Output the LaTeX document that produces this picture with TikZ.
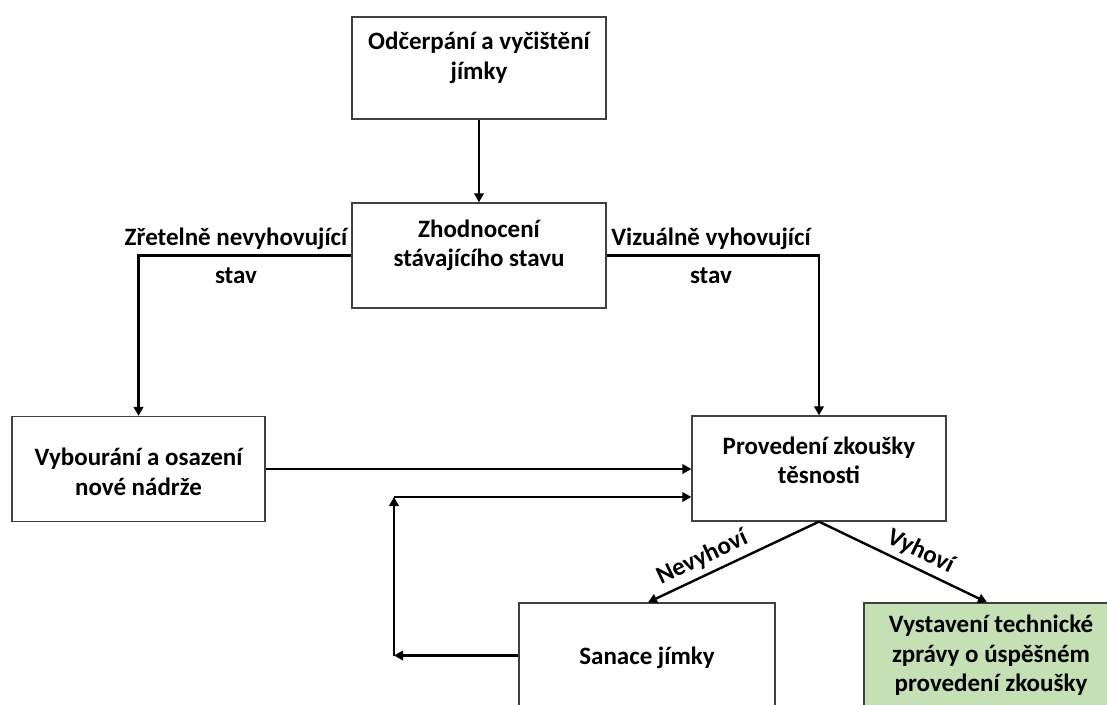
\documentclass[tikz,border=0pt]{standalone}
\usepackage{fontspec}
\setmainfont{Carlito}
\usetikzlibrary{arrows.meta}
\definecolor{boxgray}{HTML}{404040}
\definecolor{okgreen}{HTML}{C5E0B4}

\begin{document}
\begin{tikzpicture}[x=1pt, y=-1pt,
        font=\fontsize{25}{29.5}\selectfont\bfseries,
        box/.style={draw=boxgray, line width=1.3pt, minimum width=254pt, minimum height=105pt, inner sep=0pt},
        boxtext/.style={align=center, inner sep=0pt},
        arr/.style={line width=2.4pt, -{Triangle[length=9pt, width=9.5pt]}},
        branch/.style={align=center, inner sep=0pt}]
        \useasboundingbox (0,0) rectangle (1107,704);
        \clip (0,0) rectangle (1107,704);

        \node[box, minimum height=102pt, label={[boxtext, name=odcerpanitxt, yshift=10pt]center:{Odčerpání a vyčištění\\jímky}}] (odcerpani) at (479,68) {};
        \node[box, label={[boxtext, name=zhodnocenitxt, yshift=10pt]center:{Zhodnocení\\stávajícího stavu}}] (zhodnoceni) at (479,255.5) {};
        \node[box, minimum width=253pt, label={[boxtext, name=vybouranitxt, yshift=-3pt]center:{Vybourání a osazení\\nové nádrže}}] (vybourani) at (138.5,469) {};
        \node[box, label={[boxtext, name=provedenitxt, yshift=8pt]center:{Provedení zkoušky\\těsnosti}}] (provedeni) at (819,468.5) {};
        \node[box, minimum width=256pt, label={[boxtext, name=sanacetxt, yshift=-2pt]center:{Sanace jímky}}] (sanace) at (647,655.5) {};
        \node[box, fill=okgreen, label={[boxtext, name=zpravatxt]center:{Vystavení technické\\zprávy o úspěšném\\provedení zkoušky}}] (zprava) at (991,655.5) {};

        \node[branch] (nevyhovujici) at (236,256) {Zřetelně nevyhovující\\[8pt]stav};
        \node[branch] (vyhovujici) at (711,256) {Vizuálně vyhovující\\[8pt]stav};

        \coordinate (zpet) at (394,497);

        \draw[arr] (odcerpani.south) -- (zhodnoceni.north);
        \draw[arr] (zhodnoceni.west) -| (vybourani.north);
        \draw[arr] (zhodnoceni.east) -| (provedeni.north);
        \draw[arr] (vybourani.east) -- (vybourani.east -| provedeni.west);
        \draw[arr] (sanace.west) -- (sanace.west -| zpet);
        \draw[arr] (sanace.west -| zpet) -- (zpet);
        \draw[arr] (zpet) -- (zpet -| provedeni.west);
        \draw[arr] (provedeni.south) -- node[pos=0.64, sloped, above=2pt] (nevyhovi) {Nevyhoví} ([xshift=1pt]sanace.north);
        \draw[arr] (provedeni.south) -- node[pos=0.56, sloped, above=2pt] (vyhovi) {Vyhoví} ([xshift=-4pt]zprava.north);
\end{tikzpicture}
\end{document}
